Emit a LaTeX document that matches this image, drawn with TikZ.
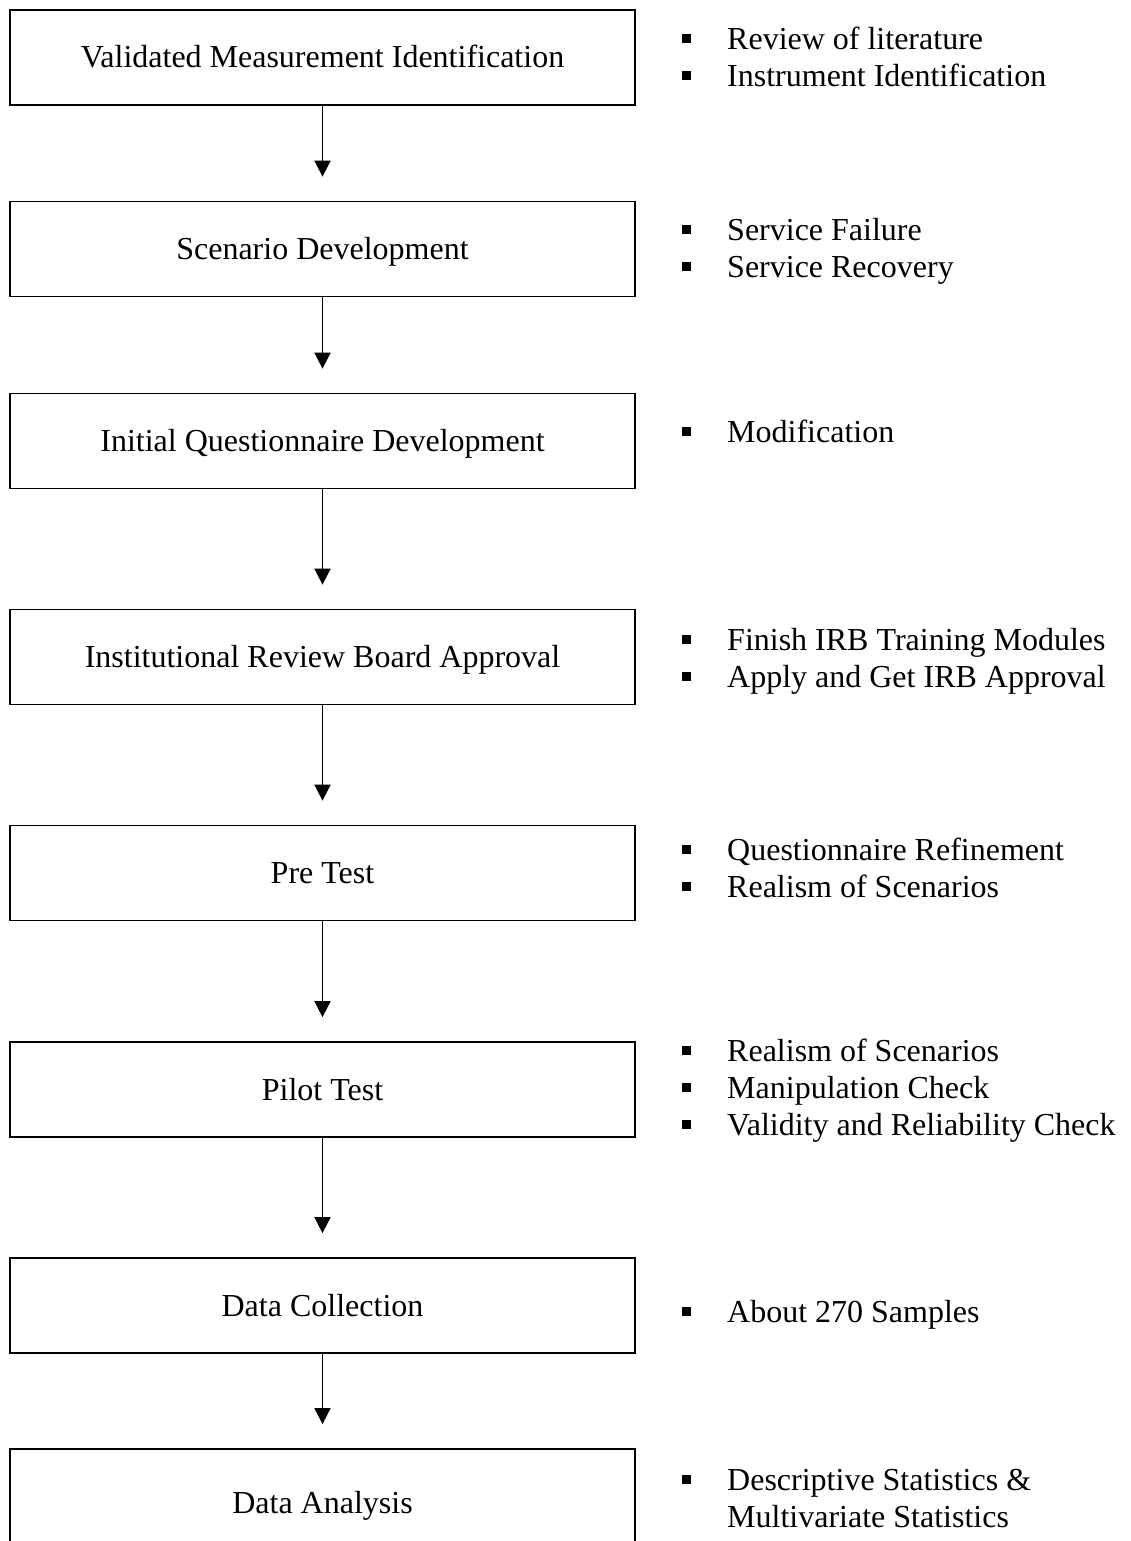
\documentclass[tikz,border=0pt]{standalone}
\usepackage{fontspec}
\setmainfont{Liberation Serif}
\usetikzlibrary{arrows.meta}
\newcommand{\itm}{\makebox[45pt][l]{\rule[6.5pt]{9pt}{9pt}}}
\begin{document}
\begin{tikzpicture}[x=1pt,y=-1pt,
  stepbox/.style={draw=black, line width=1.8pt, minimum width=625pt, minimum height=95pt,
    inner sep=0pt, text height=21pt, text depth=0pt,
    font=\fontsize{32}{37}\selectfont},
  itemtext/.style={anchor=base west, inner sep=0pt, font=\fontsize{32}{37}\selectfont},
  arr/.style={line width=1.8pt, -{Triangle[width=16pt,length=16pt]}, shorten >=24pt}]
\useasboundingbox (0,0) rectangle (1131,1541);
\fill[white] (0,0) rectangle (1131,1541);
% boxes
\node[stepbox] (b1) at (322.5,57.5) {Validated Measurement Identification};
\node[stepbox] (b2) at (322.5,249) {Scenario Development};
\node[stepbox] (b3) at (322.5,441) {Initial Questionnaire Development};
\node[stepbox] (b4) at (322.5,657) {Institutional Review Board Approval};
\node[stepbox] (b5) at (322.5,873) {Pre Test};
\node[stepbox] (b6) at (322.5,1089.5) {Pilot Test};
\node[stepbox] (b7) at (322.5,1305.5) {Data Collection};
\node[stepbox, minimum height=108pt] (b8) at (322.5,1503) {Data Analysis};
% arrows
\draw[arr] (b1.south) -- (b2.north);
\draw[arr] (b2.south) -- (b3.north);
\draw[arr] (b3.south) -- (b4.north);
\draw[arr] (b4.south) -- (b5.north);
\draw[arr] (b5.south) -- (b6.north);
\draw[arr] (b6.south) -- (b7.north);
\draw[arr] (b7.south) -- (b8.north);
% right-hand items
\node[itemtext] (r1a) at (682,49.5) {\itm Review of literature};
\node[itemtext] (r1b) at (682,86.5) {\itm Instrument Identification};
\node[itemtext] (r2a) at (682,240.5) {\itm Service Failure};
\node[itemtext] (r2b) at (682,277.5) {\itm Service Recovery};
\node[itemtext] (r3a) at (682,442.5) {\itm Modification};
\node[itemtext] (r4a) at (682,650.5) {\itm Finish IRB Training Modules};
\node[itemtext] (r4b) at (682,687.5) {\itm Apply and Get IRB Approval};
\node[itemtext] (r5a) at (682,860.5) {\itm Questionnaire Refinement};
\node[itemtext] (r5b) at (682,897.5) {\itm Realism of Scenarios};
\node[itemtext] (r6a) at (682,1061.5) {\itm Realism of Scenarios};
\node[itemtext] (r6b) at (682,1098.5) {\itm Manipulation Check};
\node[itemtext] (r6c) at (682,1135.5) {\itm Validity and Reliability Check};
\node[itemtext] (r7a) at (682,1322.5) {\itm About 270 Samples};
\node[itemtext] (r8a) at (682,1490.5) {\itm Descriptive Statistics \&};
\node[itemtext] (r8b) at (727,1527.5) {Multivariate Statistics};
\end{tikzpicture}
\end{document}
